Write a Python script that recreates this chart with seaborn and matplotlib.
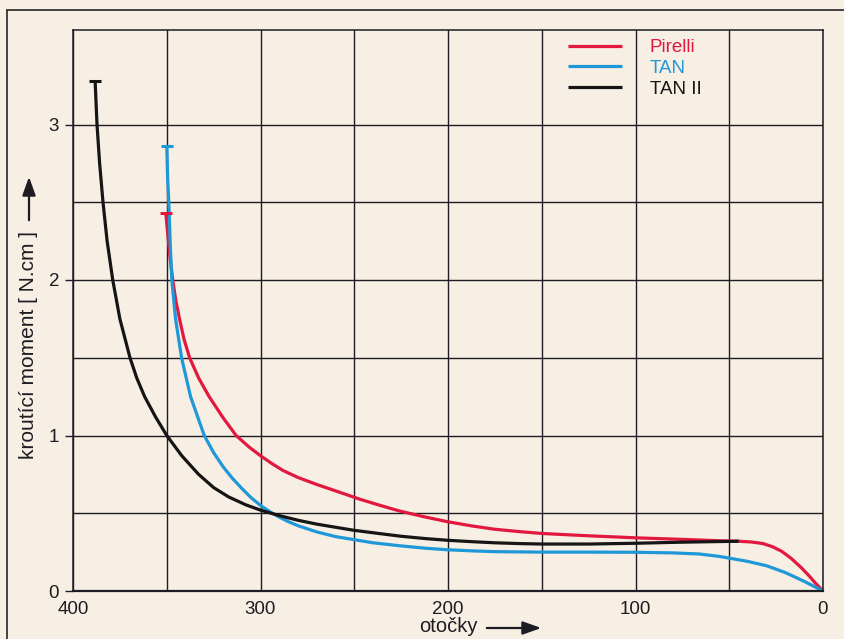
import numpy as np
import pandas as pd
import matplotlib
matplotlib.use("Agg")
import matplotlib.pyplot as plt
from matplotlib.lines import Line2D
from matplotlib.patches import FancyArrowPatch
import seaborn as sns

# ---------------- data ----------------
series_names = ["Pirelli", "TAN", "TAN II"]
series_colors = ["#e2183f", "#1e98d8", "#151515"]

pirelli_x = [350.5, 349.5, 348.3, 346.8, 345.2, 343.2, 340.8, 337.8, 333, 327.4, 320, 313,
             306, 300, 294, 288, 280, 270, 259, 247, 236, 226, 213, 200, 187, 175, 162, 150,
             125, 100, 75, 55, 45, 38, 32, 27, 22, 17, 12, 8, 4, 0]
pirelli_y = [2.43, 2.3, 2.15, 2.0, 1.87, 1.75, 1.62, 1.5, 1.37, 1.25, 1.115, 1.0,
             0.925, 0.87, 0.82, 0.775, 0.73, 0.685, 0.64, 0.59, 0.55, 0.515, 0.478, 0.445,
             0.418, 0.397, 0.382, 0.37, 0.355, 0.342, 0.332, 0.323, 0.32, 0.315, 0.305,
             0.285, 0.255, 0.21, 0.155, 0.105, 0.05, 0.0]

tan_x = [350, 349.5, 348.9, 348.2, 347.3, 345.3, 342.1, 337.3, 330, 325, 320, 315, 310, 305,
         300, 295, 290, 285, 280, 270, 260, 250, 240, 225, 212, 200, 187, 175, 150, 125,
         100, 80, 66, 55, 47, 40, 30, 20, 10, 0]
tan_y = [2.86, 2.65, 2.5, 2.25, 2.0, 1.75, 1.5, 1.25, 1.0, 0.89, 0.80, 0.725, 0.66, 0.60,
         0.55, 0.51, 0.475, 0.445, 0.42, 0.38, 0.35, 0.33, 0.31, 0.29, 0.275, 0.265, 0.258,
         0.253, 0.25, 0.25, 0.249, 0.245, 0.238, 0.222, 0.205, 0.19, 0.162, 0.118, 0.062, 0.0]

tan2_x = [388.2, 387.2, 385.8, 384, 381.8, 378.8, 375, 369.6, 366, 361.8, 356, 350, 342, 333,
          325, 317, 308, 300, 290, 280, 270, 260, 250, 237, 225, 212, 200, 187, 175, 162,
          150, 125, 100, 75, 45]
tan2_y = [3.28, 3.0, 2.75, 2.5, 2.25, 2.0, 1.75, 1.5, 1.37, 1.25, 1.12, 1.0, 0.87, 0.75,
          0.665, 0.605, 0.555, 0.52, 0.485, 0.455, 0.43, 0.41, 0.39, 0.37, 0.352, 0.337,
          0.326, 0.317, 0.31, 0.305, 0.302, 0.302, 0.307, 0.314, 0.32]

x_ticks = [400, 300, 200, 100, 0]
x_grid_minor = [350, 250, 150, 50]
y_ticks = [0, 1, 2, 3]
y_grid_minor = [0.5, 1.5, 2.5]
x_label = "otočky"
y_label = "kroutící moment [ N.cm ]"

# ---------------- build table ----------------
frames = []
for name, xs, ys in zip(series_names, [pirelli_x, tan_x, tan2_x], [pirelli_y, tan_y, tan2_y]):
    frames.append(pd.DataFrame({"otacky": xs, "moment": ys, "serie": name}))
df = pd.concat(frames, ignore_index=True)

# ---------------- style ----------------
bg = "#f7efe4"
ink = "#1c1c22"
sns.set_theme(style="white")
plt.rcParams["font.family"] = ["Liberation Sans", "DejaVu Sans"]

fig = plt.figure(figsize=(8.44, 6.39), dpi=100)
fig.patch.set_facecolor(bg)
ax = fig.add_axes([73 / 844, 48 / 639, 750 / 844, 561 / 639])
ax.set_facecolor(bg)

palette = dict(zip(series_names, series_colors))
sns.lineplot(data=df, x="otacky", y="moment", hue="serie", palette=palette,
             sort=False, estimator=None, linewidth=2.3, ax=ax, legend=True)
for ln in ax.get_lines():
    ln.set_solid_joinstyle("round")
    ln.set_solid_capstyle("butt")

# small end caps at the start of each curve
for name, xs, ys in zip(series_names, [pirelli_x, tan_x, tan2_x], [pirelli_y, tan_y, tan2_y]):
    ax.plot([xs[0]], [ys[0]], marker="_", ms=8, mew=2.2, color=palette[name],
            linestyle="none")

ax.set_xlim(400, 0)
ax.set_ylim(0, 561 / 155.5)

ax.set_xticks(x_ticks)
ax.set_xticks(x_grid_minor, minor=True)
ax.set_yticks(y_ticks)
ax.set_yticks(y_grid_minor, minor=True)
ax.set_xticklabels([str(v) for v in x_ticks])
ax.set_yticklabels([str(v) for v in y_ticks])
ax.grid(True, which="both", color=ink, linewidth=1.0)
ax.set_axisbelow(True)
ax.tick_params(axis="x", which="both", length=0, pad=7, labelsize=13.5, labelcolor=ink)
ax.tick_params(axis="y", which="major", length=6, width=1.0, color=ink, pad=4,
               labelsize=13.5, labelcolor=ink, direction="out", left=True)
ax.tick_params(axis="y", which="minor", length=0)
for s in ax.spines.values():
    s.set_color(ink)
    s.set_linewidth(1.1)
ax.spines["bottom"].set_linewidth(1.6)
ax.set_xlabel("")
ax.set_ylabel("")

# legend
handles, labels = ax.get_legend_handles_labels()
leg = ax.legend(handles, labels, loc="upper left",
                bbox_to_anchor=(568 / 844, 1 - 39 / 639), bbox_transform=fig.transFigure,
                frameon=False, fontsize=13.5, handlelength=2.9, handletextpad=1.45,
                labelspacing=0.2, borderpad=0, borderaxespad=0, labelcolor="linecolor")
for ln in leg.get_lines():
    ln.set_linewidth(2.3)

# axis labels with arrows
fig.text(448 / 844, 1 - 627 / 639, x_label, ha="center", va="center",
         fontsize=14.5, color=ink)
fig.add_artist(FancyArrowPatch(
    (484 / 844, 1 - 628 / 639), (544 / 844, 1 - 628 / 639),
    transform=fig.transFigure, arrowstyle="-|>,head_length=7,head_width=2.5",
    color=ink, linewidth=1.6, mutation_scale=1.6))

fig.text(29 / 844, 1 - 345 / 639, y_label, ha="center", va="center", rotation=90,
         fontsize=15, color=ink)
fig.add_artist(FancyArrowPatch(
    (29 / 844, 1 - 223 / 639), (29 / 844, 1 - 174 / 639),
    transform=fig.transFigure, arrowstyle="-|>,head_length=7,head_width=2.5",
    color=ink, linewidth=1.6, mutation_scale=1.6))

# scanned page frame
fig.add_artist(Line2D([7 / 844, 7 / 844], [0, 1 - 10 / 639], transform=fig.transFigure,
                      color="#333338", linewidth=1.3))
fig.add_artist(Line2D([7 / 844, 1], [1 - 10 / 639, 1 - 10 / 639], transform=fig.transFigure,
                      color="#333338", linewidth=1.3))

fig.savefig("out.png", dpi=100, facecolor=bg)
